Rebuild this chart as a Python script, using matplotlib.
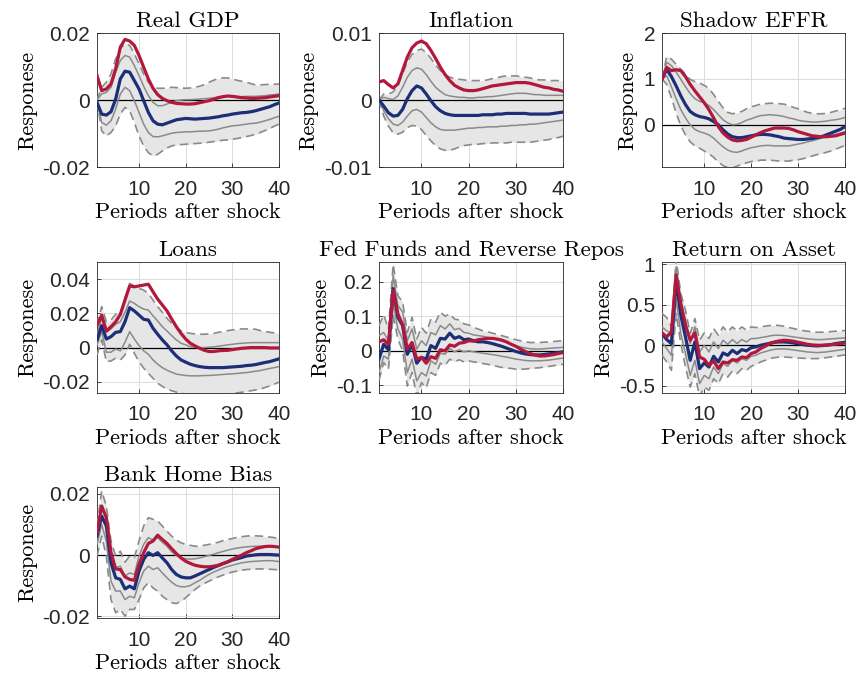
import numpy as np
import matplotlib
matplotlib.use("Agg")
import matplotlib.pyplot as plt
from matplotlib.ticker import FuncFormatter

# Horizon (periods after shock)
periods = np.arange(1, 41)

# Real GDP
gdp_lo2 = [0.0000, -0.0092, -0.0107, -0.0097, -0.0077, -0.0042, -0.0022, -0.0032, -0.0067, -0.0107,
           -0.0137, -0.0157, -0.0167, -0.0162, -0.0152, -0.0143, -0.0137, -0.0134, -0.0133, -0.0132,
           -0.0131, -0.0130, -0.0129, -0.0128, -0.0126, -0.0124, -0.0122, -0.0120, -0.0119, -0.0117,
           -0.0115, -0.0112, -0.0109, -0.0106, -0.0102, -0.0097, -0.0091, -0.0085, -0.0078, -0.0072]
gdp_lo1 = [-0.0007, -0.0067, -0.0075, -0.0062, -0.0027, 0.0018, 0.0038, 0.0028, -0.0002, -0.0037,
           -0.0072, -0.0097, -0.0109, -0.0110, -0.0107, -0.0103, -0.0099, -0.0097, -0.0096, -0.0095,
           -0.0095, -0.0094, -0.0093, -0.0093, -0.0092, -0.0090, -0.0087, -0.0083, -0.0080, -0.0077,
           -0.0076, -0.0074, -0.0072, -0.0070, -0.0069, -0.0066, -0.0062, -0.0058, -0.0053, -0.0049]
gdp_med = [-0.0007, -0.0042, -0.0045, -0.0035, 0.0003, 0.0063, 0.0086, 0.0083, 0.0058, 0.0033,
           -0.0002, -0.0037, -0.0062, -0.0072, -0.0074, -0.0069, -0.0064, -0.0059, -0.0057, -0.0055,
           -0.0056, -0.0057, -0.0056, -0.0055, -0.0054, -0.0052, -0.0050, -0.0047, -0.0045, -0.0042,
           -0.0040, -0.0038, -0.0037, -0.0035, -0.0032, -0.0028, -0.0024, -0.0020, -0.0014, -0.0009]
gdp_hi1 = [0.0000, 0.0018, 0.0023, 0.0038, 0.0083, 0.0118, 0.0133, 0.0128, 0.0103, 0.0073,
           0.0041, 0.0013, -0.0007, -0.0017, -0.0017, -0.0012, -0.0006, -0.0002, 0.0000, 0.0001,
           0.0001, 0.0002, 0.0003, 0.0004, 0.0005, 0.0007, 0.0009, 0.0011, 0.0011, 0.0010,
           0.0010, 0.0010, 0.0011, 0.0011, 0.0011, 0.0012, 0.0013, 0.0015, 0.0016, 0.0018]
gdp_hi2 = [0.0000, 0.0038, 0.0053, 0.0078, 0.0123, 0.0153, 0.0168, 0.0163, 0.0138, 0.0108,
           0.0078, 0.0053, 0.0041, 0.0035, 0.0035, 0.0036, 0.0038, 0.0037, 0.0036, 0.0035,
           0.0036, 0.0038, 0.0041, 0.0046, 0.0053, 0.0059, 0.0064, 0.0066, 0.0066, 0.0063,
           0.0059, 0.0056, 0.0053, 0.0049, 0.0045, 0.0045, 0.0046, 0.0047, 0.0047, 0.0048]
gdp_alt = [0.0073, 0.0028, 0.0033, 0.0048, 0.0093, 0.0158, 0.0181, 0.0176, 0.0163, 0.0133,
           0.0098, 0.0063, 0.0035, 0.0016, 0.0005, -0.0002, -0.0007, -0.0010, -0.0011, -0.0012,
           -0.0012, -0.0011, -0.0008, -0.0005, -0.0002, 0.0002, 0.0007, 0.0010, 0.0012, 0.0011,
           0.0009, 0.0007, 0.0006, 0.0005, 0.0005, 0.0006, 0.0007, 0.0009, 0.0011, 0.0013]

# Inflation
inf_lo2 = [0.0000, -0.0024, -0.0039, -0.0049, -0.0051, -0.0048, -0.0041, -0.0038, -0.0039, -0.0044,
           -0.0053, -0.0061, -0.0068, -0.0073, -0.0075, -0.0075, -0.0073, -0.0070, -0.0068, -0.0067,
           -0.0066, -0.0066, -0.0065, -0.0065, -0.0064, -0.0064, -0.0064, -0.0064, -0.0063, -0.0063,
           -0.0063, -0.0063, -0.0063, -0.0062, -0.0061, -0.0060, -0.0059, -0.0057, -0.0056, -0.0054]
inf_lo1 = [0.0000, -0.0016, -0.0028, -0.0036, -0.0038, -0.0033, -0.0024, -0.0016, -0.0014, -0.0018,
           -0.0026, -0.0034, -0.0040, -0.0044, -0.0045, -0.0045, -0.0045, -0.0044, -0.0043, -0.0042,
           -0.0042, -0.0041, -0.0041, -0.0040, -0.0040, -0.0040, -0.0039, -0.0039, -0.0038, -0.0038,
           -0.0037, -0.0037, -0.0036, -0.0036, -0.0035, -0.0034, -0.0033, -0.0032, -0.0031, -0.0030]
inf_med = [0.0000, -0.0009, -0.0019, -0.0024, -0.0023, -0.0014, 0.0002, 0.0014, 0.0021, 0.0018,
           0.0009, -0.0001, -0.0010, -0.0016, -0.0020, -0.0022, -0.0023, -0.0023, -0.0023, -0.0023,
           -0.0023, -0.0023, -0.0022, -0.0022, -0.0022, -0.0021, -0.0021, -0.0020, -0.0020, -0.0020,
           -0.0020, -0.0020, -0.0021, -0.0021, -0.0021, -0.0021, -0.0021, -0.0020, -0.0019, -0.0018]
inf_hi1 = [0.0000, 0.0004, 0.0002, 0.0001, 0.0006, 0.0019, 0.0034, 0.0044, 0.0048, 0.0046,
           0.0038, 0.0028, 0.0019, 0.0013, 0.0008, 0.0006, 0.0005, 0.0004, 0.0004, 0.0003,
           0.0003, 0.0004, 0.0004, 0.0005, 0.0005, 0.0006, 0.0007, 0.0008, 0.0009, 0.0010,
           0.0010, 0.0010, 0.0009, 0.0008, 0.0008, 0.0007, 0.0007, 0.0007, 0.0007, 0.0007]
inf_hi2 = [0.0000, 0.0009, 0.0009, 0.0012, 0.0022, 0.0039, 0.0057, 0.0068, 0.0074, 0.0076,
           0.0071, 0.0062, 0.0052, 0.0044, 0.0038, 0.0034, 0.0032, 0.0031, 0.0030, 0.0029,
           0.0029, 0.0029, 0.0029, 0.0030, 0.0032, 0.0033, 0.0035, 0.0036, 0.0036, 0.0036,
           0.0035, 0.0034, 0.0033, 0.0031, 0.0030, 0.0030, 0.0029, 0.0029, 0.0029, 0.0029]
inf_alt = [0.0027, 0.0029, 0.0023, 0.0018, 0.0024, 0.0044, 0.0064, 0.0078, 0.0085, 0.0088,
           0.0084, 0.0074, 0.0062, 0.0049, 0.0038, 0.0029, 0.0022, 0.0018, 0.0015, 0.0014,
           0.0014, 0.0015, 0.0017, 0.0019, 0.0021, 0.0022, 0.0023, 0.0024, 0.0025, 0.0026,
           0.0026, 0.0026, 0.0025, 0.0023, 0.0021, 0.0019, 0.0018, 0.0016, 0.0015, 0.0013]

# Shadow EFFR
effr_lo2 = [1.00, 0.88, 0.59, 0.26, -0.02, -0.22, -0.37, -0.46, -0.51, -0.57,
            -0.63, -0.71, -0.81, -0.89, -0.93, -0.94, -0.90, -0.86, -0.83, -0.80,
            -0.79, -0.77, -0.77, -0.77, -0.78, -0.79, -0.79, -0.79, -0.77, -0.76,
            -0.74, -0.71, -0.68, -0.65, -0.63, -0.60, -0.57, -0.53, -0.49, -0.45]
effr_lo1 = [1.00, 1.07, 0.83, 0.57, 0.33, 0.15, 0.00, -0.10, -0.15, -0.18,
            -0.22, -0.29, -0.39, -0.48, -0.55, -0.59, -0.60, -0.57, -0.53, -0.50,
            -0.48, -0.46, -0.45, -0.45, -0.46, -0.46, -0.46, -0.46, -0.44, -0.42,
            -0.40, -0.37, -0.35, -0.32, -0.29, -0.26, -0.24, -0.21, -0.18, -0.15]
effr_med = [1.00, 1.21, 1.05, 0.85, 0.63, 0.44, 0.29, 0.22, 0.18, 0.16,
            0.13, 0.07, 0.00, -0.11, -0.20, -0.26, -0.28, -0.28, -0.26, -0.24,
            -0.22, -0.21, -0.21, -0.22, -0.24, -0.26, -0.29, -0.30, -0.31, -0.32,
            -0.32, -0.31, -0.30, -0.28, -0.26, -0.22, -0.18, -0.14, -0.10, -0.04]
effr_hi1 = [1.00, 1.36, 1.29, 1.15, 0.99, 0.83, 0.68, 0.57, 0.51, 0.48,
            0.42, 0.33, 0.22, 0.11, 0.04, 0.00, 0.01, 0.05, 0.10, 0.13,
            0.17, 0.20, 0.21, 0.22, 0.21, 0.20, 0.18, 0.15, 0.13, 0.10,
            0.08, 0.07, 0.06, 0.06, 0.07, 0.08, 0.10, 0.11, 0.13, 0.16]
effr_hi2 = [1.00, 1.49, 1.43, 1.32, 1.21, 1.10, 0.99, 0.94, 0.91, 0.86,
            0.79, 0.66, 0.51, 0.37, 0.27, 0.24, 0.26, 0.29, 0.35, 0.39,
            0.42, 0.45, 0.46, 0.47, 0.47, 0.46, 0.45, 0.42, 0.38, 0.35,
            0.31, 0.27, 0.25, 0.24, 0.24, 0.25, 0.27, 0.30, 0.33, 0.36]
effr_alt = [1.00, 1.25, 1.18, 1.20, 1.18, 1.05, 0.88, 0.74, 0.61, 0.48,
            0.33, 0.15, -0.04, -0.18, -0.27, -0.33, -0.35, -0.34, -0.32, -0.27,
            -0.22, -0.17, -0.13, -0.10, -0.07, -0.07, -0.07, -0.08, -0.11, -0.15,
            -0.18, -0.21, -0.24, -0.25, -0.26, -0.26, -0.25, -0.24, -0.21, -0.18]

# Loans
loan_lo2 = [-0.0043, 0.0045, -0.0082, -0.0078, -0.0062, -0.0072, -0.0043, 0.0019, -0.0033, -0.0082,
            -0.0120, -0.0150, -0.0179, -0.0208, -0.0227, -0.0241, -0.0252, -0.0260, -0.0266, -0.0272,
            -0.0274, -0.0276, -0.0277, -0.0278, -0.0278, -0.0277, -0.0276, -0.0274, -0.0272, -0.0268,
            -0.0265, -0.0261, -0.0256, -0.0252, -0.0247, -0.0242, -0.0233, -0.0224, -0.0213, -0.0202]
loan_lo1 = [0.0016, 0.0093, -0.0027, -0.0027, -0.0008, -0.0019, 0.0031, 0.0093, 0.0050, 0.0012,
            -0.0019, -0.0039, -0.0072, -0.0097, -0.0117, -0.0132, -0.0144, -0.0155, -0.0159, -0.0163,
            -0.0165, -0.0165, -0.0165, -0.0163, -0.0163, -0.0161, -0.0159, -0.0157, -0.0155, -0.0153,
            -0.0151, -0.0148, -0.0146, -0.0142, -0.0138, -0.0134, -0.0128, -0.0122, -0.0117, -0.0111]
loan_med = [0.0045, 0.0128, 0.0050, 0.0064, 0.0089, 0.0093, 0.0151, 0.0233, 0.0214, 0.0190,
            0.0165, 0.0161, 0.0113, 0.0078, 0.0045, 0.0016, -0.0019, -0.0049, -0.0072, -0.0085,
            -0.0097, -0.0105, -0.0111, -0.0115, -0.0117, -0.0117, -0.0117, -0.0117, -0.0115, -0.0113,
            -0.0111, -0.0109, -0.0105, -0.0103, -0.0099, -0.0093, -0.0087, -0.0082, -0.0074, -0.0066]
loan_hi1 = [0.0074, 0.0171, 0.0089, 0.0109, 0.0136, 0.0151, 0.0206, 0.0272, 0.0258, 0.0239,
            0.0225, 0.0219, 0.0186, 0.0155, 0.0122, 0.0097, 0.0070, 0.0045, 0.0025, 0.0016,
            0.0006, 0.0002, 0.0000, 0.0000, 0.0002, 0.0004, 0.0008, 0.0012, 0.0016, 0.0019,
            0.0023, 0.0025, 0.0027, 0.0029, 0.0029, 0.0029, 0.0029, 0.0029, 0.0029, 0.0029]
loan_hi2 = [0.0132, 0.0239, 0.0151, 0.0161, 0.0194, 0.0206, 0.0287, 0.0375, 0.0360, 0.0346,
            0.0336, 0.0316, 0.0278, 0.0239, 0.0206, 0.0171, 0.0142, 0.0117, 0.0097, 0.0089,
            0.0083, 0.0080, 0.0078, 0.0078, 0.0080, 0.0083, 0.0089, 0.0093, 0.0099, 0.0103,
            0.0107, 0.0109, 0.0109, 0.0109, 0.0107, 0.0099, 0.0095, 0.0089, 0.0086, 0.0083]
loan_alt = [0.0128, 0.0190, 0.0097, 0.0122, 0.0151, 0.0194, 0.0278, 0.0360, 0.0355, 0.0360,
            0.0365, 0.0370, 0.0326, 0.0283, 0.0249, 0.0214, 0.0167, 0.0122, 0.0083, 0.0050,
            0.0025, 0.0010, -0.0004, -0.0016, -0.0023, -0.0023, -0.0019, -0.0017, -0.0016, -0.0012,
            -0.0008, -0.0004, -0.0002, 0.0000, 0.0000, 0.0000, 0.0000, -0.0002, -0.0002, -0.0002]

# Fed funds and reverse repos
ff_lo2 = [-0.085, -0.034, -0.053, 0.102, 0.034, 0.000, -0.102, -0.063, -0.131, -0.092,
          -0.107, -0.063, -0.071, -0.036, -0.042, -0.024, -0.032, -0.026, -0.032, -0.029,
          -0.032, -0.034, -0.037, -0.039, -0.042, -0.045, -0.048, -0.050, -0.051, -0.053,
          -0.053, -0.053, -0.051, -0.050, -0.049, -0.047, -0.045, -0.043, -0.041, -0.039]
ff_lo1 = [-0.063, -0.015, -0.024, 0.136, 0.063, 0.034, -0.063, -0.024, -0.087, -0.063,
          -0.073, -0.029, -0.039, -0.007, -0.010, 0.007, -0.003, 0.003, -0.003, 0.000,
          -0.003, -0.005, -0.007, -0.009, -0.011, -0.013, -0.016, -0.018, -0.021, -0.024,
          -0.026, -0.028, -0.029, -0.029, -0.029, -0.028, -0.027, -0.025, -0.023, -0.021]
ff_med = [-0.024, 0.019, 0.003, 0.180, 0.097, 0.073, -0.010, 0.019, -0.036, -0.019,
          -0.024, 0.015, 0.007, 0.036, 0.034, 0.051, 0.036, 0.041, 0.032, 0.034,
          0.029, 0.026, 0.026, 0.024, 0.021, 0.017, 0.013, 0.008, 0.003, -0.002,
          -0.006, -0.009, -0.011, -0.012, -0.012, -0.011, -0.009, -0.007, -0.005, -0.003]
ff_hi1 = [0.044, 0.053, 0.029, 0.218, 0.131, 0.112, 0.029, 0.063, 0.005, 0.029,
          0.015, 0.053, 0.046, 0.073, 0.063, 0.078, 0.061, 0.065, 0.053, 0.051,
          0.046, 0.044, 0.042, 0.039, 0.036, 0.032, 0.028, 0.024, 0.019, 0.015,
          0.011, 0.008, 0.006, 0.005, 0.005, 0.006, 0.007, 0.008, 0.009, 0.010]
ff_hi2 = [0.073, 0.104, 0.063, 0.250, 0.160, 0.141, 0.053, 0.097, 0.034, 0.068,
          0.051, 0.092, 0.083, 0.112, 0.100, 0.107, 0.092, 0.089, 0.078, 0.075,
          0.068, 0.063, 0.058, 0.055, 0.051, 0.048, 0.044, 0.040, 0.036, 0.032,
          0.029, 0.026, 0.024, 0.024, 0.024, 0.025, 0.026, 0.027, 0.028, 0.029]
ff_alt = [0.026, 0.032, 0.019, 0.175, 0.107, 0.075, 0.005, 0.024, -0.024, -0.019,
          -0.036, -0.017, -0.022, 0.003, 0.000, 0.017, 0.013, 0.022, 0.024, 0.029,
          0.028, 0.032, 0.034, 0.036, 0.036, 0.034, 0.031, 0.026, 0.019, 0.013,
          0.005, -0.002, -0.008, -0.012, -0.015, -0.015, -0.013, -0.011, -0.008, -0.005]

# Return on asset
roa_lo2 = [-0.124, -0.207, -0.310, 0.393, 0.021, -0.269, -0.517, -0.351, -0.640, -0.517,
           -0.558, -0.413, -0.475, -0.351, -0.393, -0.318, -0.351, -0.289, -0.310, -0.260,
           -0.236, -0.207, -0.186, -0.165, -0.153, -0.145, -0.145, -0.149, -0.153, -0.157,
           -0.161, -0.165, -0.165, -0.165, -0.161, -0.153, -0.145, -0.136, -0.128, -0.120]
roa_lo1 = [0.041, -0.041, -0.124, 0.579, 0.145, -0.103, -0.372, -0.186, -0.475, -0.372,
           -0.413, -0.269, -0.351, -0.227, -0.260, -0.186, -0.219, -0.165, -0.186, -0.136,
           -0.124, -0.095, -0.079, -0.062, -0.050, -0.045, -0.045, -0.050, -0.058, -0.066,
           -0.074, -0.083, -0.087, -0.091, -0.087, -0.083, -0.074, -0.066, -0.058, -0.050]
roa_med = [0.145, 0.070, 0.021, 0.806, 0.372, 0.103, -0.186, 0.041, -0.289, -0.219,
           -0.269, -0.136, -0.207, -0.095, -0.124, -0.062, -0.103, -0.054, -0.070, -0.029,
           -0.021, 0.000, 0.012, 0.025, 0.037, 0.041, 0.041, 0.037, 0.029, 0.017,
           0.008, 0.000, -0.004, -0.008, -0.004, 0.000, 0.008, 0.021, 0.029, 0.037]
roa_hi1 = [0.227, 0.178, 0.153, 0.971, 0.537, 0.310, 0.021, 0.227, -0.083, 0.000,
           -0.083, 0.041, -0.041, 0.062, 0.012, 0.070, 0.021, 0.070, 0.041, 0.083,
           0.083, 0.095, 0.103, 0.116, 0.124, 0.124, 0.120, 0.112, 0.103, 0.095,
           0.087, 0.079, 0.074, 0.070, 0.070, 0.074, 0.079, 0.083, 0.087, 0.091]
roa_hi2 = [0.393, 0.343, 0.227, 1.070, 0.640, 0.434, 0.145, 0.331, 0.062, 0.153,
           0.083, 0.207, 0.124, 0.227, 0.165, 0.227, 0.178, 0.227, 0.186, 0.227,
           0.219, 0.227, 0.236, 0.244, 0.248, 0.244, 0.236, 0.219, 0.207, 0.194,
           0.182, 0.174, 0.165, 0.161, 0.161, 0.165, 0.169, 0.174, 0.178, 0.182]
roa_alt = [0.153, 0.103, 0.165, 0.868, 0.517, 0.248, 0.062, 0.153, -0.145, -0.174,
           -0.248, -0.194, -0.289, -0.207, -0.219, -0.178, -0.186, -0.145, -0.153, -0.103,
           -0.083, -0.041, -0.012, 0.021, 0.041, 0.054, 0.062, 0.058, 0.050, 0.037,
           0.025, 0.012, 0.004, 0.000, 0.000, 0.004, 0.008, 0.012, 0.021, 0.029]

# Bank home bias
hb_lo2 = [-0.0003, 0.0062, -0.0003, -0.0145, -0.0188, -0.0177, -0.0199, -0.0177, -0.0177, -0.0145,
          -0.0107, -0.0090, -0.0107, -0.0117, -0.0134, -0.0145, -0.0155, -0.0158, -0.0150, -0.0139,
          -0.0125, -0.0112, -0.0101, -0.0092, -0.0085, -0.0077, -0.0071, -0.0065, -0.0060, -0.0055,
          -0.0052, -0.0049, -0.0047, -0.0046, -0.0045, -0.0045, -0.0045, -0.0046, -0.0047, -0.0048]
hb_lo1 = [0.0035, 0.0100, 0.0046, -0.0085, -0.0117, -0.0117, -0.0145, -0.0134, -0.0139, -0.0090,
          -0.0052, -0.0036, -0.0047, -0.0041, -0.0058, -0.0074, -0.0088, -0.0099, -0.0103, -0.0103,
          -0.0099, -0.0090, -0.0082, -0.0072, -0.0063, -0.0055, -0.0049, -0.0042, -0.0037, -0.0033,
          -0.0029, -0.0025, -0.0023, -0.0021, -0.0020, -0.0019, -0.0018, -0.0018, -0.0019, -0.0021]
hb_med = [0.0064, 0.0127, 0.0095, -0.0025, -0.0074, -0.0079, -0.0110, -0.0101, -0.0110, -0.0052,
          -0.0014, 0.0008, -0.0001, 0.0008, -0.0009, -0.0025, -0.0047, -0.0063, -0.0071, -0.0074,
          -0.0074, -0.0068, -0.0061, -0.0054, -0.0047, -0.0040, -0.0034, -0.0028, -0.0022, -0.0016,
          -0.0012, -0.0008, -0.0003, -0.0001, 0.0001, 0.0002, 0.0002, 0.0002, 0.0001, 0.0000]
hb_hi1 = [0.0073, 0.0162, 0.0122, 0.0013, -0.0041, -0.0036, -0.0068, -0.0058, -0.0063, -0.0003,
          0.0035, 0.0057, 0.0049, 0.0057, 0.0042, 0.0029, 0.0011, -0.0001, -0.0009, -0.0012,
          -0.0013, -0.0012, -0.0009, -0.0005, -0.0001, 0.0003, 0.0008, 0.0012, 0.0016, 0.0020,
          0.0023, 0.0025, 0.0027, 0.0028, 0.0029, 0.0029, 0.0029, 0.0028, 0.0027, 0.0026]
hb_hi2 = [0.0095, 0.0209, 0.0160, 0.0046, -0.0003, 0.0013, -0.0023, -0.0003, -0.0008, 0.0046,
          0.0095, 0.0122, 0.0117, 0.0111, 0.0095, 0.0078, 0.0062, 0.0049, 0.0040, 0.0035,
          0.0032, 0.0029, 0.0029, 0.0032, 0.0035, 0.0038, 0.0042, 0.0047, 0.0051, 0.0054,
          0.0058, 0.0060, 0.0062, 0.0063, 0.0063, 0.0062, 0.0061, 0.0059, 0.0057, 0.0054]
hb_alt = [0.0075, 0.0160, 0.0122, 0.0008, -0.0045, -0.0047, -0.0071, -0.0079, -0.0082, -0.0030,
          0.0008, 0.0038, 0.0046, 0.0065, 0.0051, 0.0038, 0.0021, 0.0005, -0.0009, -0.0020,
          -0.0027, -0.0033, -0.0036, -0.0038, -0.0038, -0.0036, -0.0033, -0.0027, -0.0022, -0.0014,
          -0.0007, 0.0000, 0.0008, 0.0014, 0.0021, 0.0025, 0.0028, 0.0029, 0.0028, 0.0026]

titles = ["Real GDP", "Inflation", "Shadow EFFR", "Loans",
          "Fed Funds and Reverse Repos", "Return on Asset", "Bank Home Bias"]
yticks = [[-0.02, 0, 0.02], [-0.01, 0, 0.01], [0, 1, 2], [-0.02, 0, 0.02, 0.04],
          [-0.1, 0, 0.1, 0.2], [-0.5, 0, 0.5, 1], [-0.02, 0, 0.02]]
xticks = [10, 20, 30, 40]

panels = [
    (gdp_lo2, gdp_lo1, gdp_med, gdp_hi1, gdp_hi2, gdp_alt, (-0.02, 0.02)),
    (inf_lo2, inf_lo1, inf_med, inf_hi1, inf_hi2, inf_alt, (-0.01, 0.01)),
    (effr_lo2, effr_lo1, effr_med, effr_hi1, effr_hi2, effr_alt, (-0.92, 2.0)),
    (loan_lo2, loan_lo1, loan_med, loan_hi1, loan_hi2, loan_alt, (-0.0265, 0.05)),
    (ff_lo2, ff_lo1, ff_med, ff_hi1, ff_hi2, ff_alt, (-0.122, 0.257)),
    (roa_lo2, roa_lo1, roa_med, roa_hi1, roa_hi2, roa_alt, (-0.59, 1.03)),
    (hb_lo2, hb_lo1, hb_med, hb_hi1, hb_hi2, hb_alt, (-0.0205, 0.0222)),
]

# axes rectangles (left, bottom, width, height) in figure fractions
col_left = [0.1128, 0.4407, 0.7698]
col_width = [0.2116, 0.2140, 0.2128]
row_bottom = [0.7551, 0.4238, 0.0938]
row_height = [0.1965, 0.1921, 0.1921]

serif = "cmr10"
sans = "Liberation Sans"
plt.rcParams["axes.unicode_minus"] = False

band_col = "#e6e6e6"
gray_col = "#8a8a8a"
blue_col = "#1c2e78"
red_col = "#b3173b"

fig = plt.figure(figsize=(8.6, 6.82), dpi=100)

for i, (lo2, lo1, med, hi1, hi2, alt, ylim) in enumerate(panels):
    r, c = divmod(i, 3)
    ax = fig.add_axes([col_left[c], row_bottom[r], col_width[c], row_height[r]])

    ax.fill_between(periods, lo2, hi2, color=band_col, linewidth=0, zorder=1)
    ax.axhline(0, color="black", linewidth=0.9, zorder=2)
    ax.plot(periods, lo1, color=gray_col, linewidth=1.1, zorder=3)
    ax.plot(periods, hi1, color=gray_col, linewidth=1.1, zorder=3)
    ax.plot(periods, lo2, color=gray_col, linewidth=1.2, dashes=(5, 3), zorder=3)
    ax.plot(periods, hi2, color=gray_col, linewidth=1.2, dashes=(5, 3), zorder=3)
    ax.plot(periods, med, color=blue_col, linewidth=2.3, zorder=4)
    ax.plot(periods, alt, color=red_col, linewidth=2.3, zorder=5)

    ax.set_xlim(1, 40)
    ax.set_ylim(*ylim)
    ax.set_xticks(xticks)
    ax.set_yticks(yticks[i])
    ax.yaxis.set_major_formatter(FuncFormatter(lambda v, _: f"{v:g}"))
    ax.grid(True, color="#dcdcdc", linewidth=0.7, zorder=0)
    ax.set_axisbelow(True)
    ax.tick_params(direction="in", length=3, width=0.6, labelsize=15,
                   colors="#262626")
    ax.tick_params(axis="x", pad=9)
    ax.tick_params(axis="y", pad=5)
    for lab in ax.get_xticklabels() + ax.get_yticklabels():
        lab.set_fontfamily(sans)
    for sp in ax.spines.values():
        sp.set_color("#262626")
        sp.set_linewidth(0.6)

    ax.set_title(titles[i], fontfamily=serif, fontsize=16.5, pad=4)
    ax.set_xlabel("Periods after shock", fontfamily=serif, fontsize=16, labelpad=3)
    ax.set_ylabel("Responese", fontfamily=serif, fontsize=16, labelpad=4)

fig.savefig("out.png", dpi=100)
